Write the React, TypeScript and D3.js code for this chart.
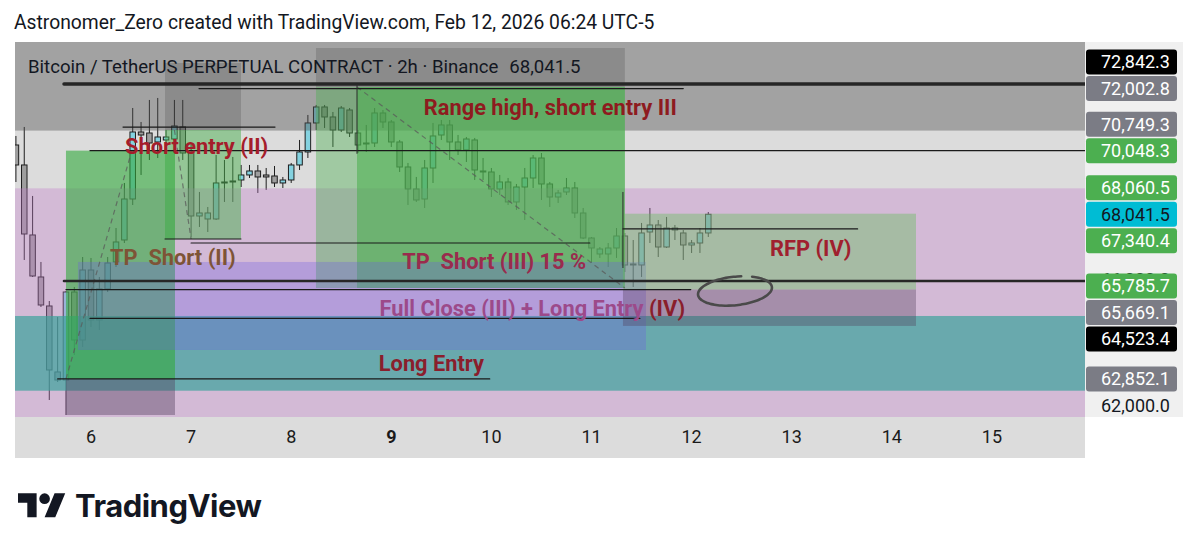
import React from 'react';
import * as d3 from 'd3';

// ---------- DATA ----------
const FIRST_BAR = -9; // bar index of first candle (0 = Feb 6 00:00), 2h bars
const BARS_PER_DAY = 12;
const candleOpen = [70226,69596,67390,66066,65152,63072,62819,65593,64080,66286,64711,65688,66539,67232,68524,70636,70604,70321,70384,70415,70794,69974,67988,67894,67894,69029,69060,69123,69281,69407,69281,69249,69029,69123,69596,70006,70920,71424,71109,70699,71329,70604,70258,70289,71235,70951,70321,69533,68839,68524,69501,70541,70857,70321,70069,70384,69407,69375,68839,69060,68430,68902,69186,69816,68997,68587,68745,68871,68083,67295,66791,66791,66980,67358,66444,66444,67484,67705,67011,67547,67453,67074,67137,67453];
const candleHigh = [70510,70794,68619,66539,65309,64805,65625,65751,66696,66665,66066,66696,67610,69029,71392,70951,71645,71708,70699,71645,71645,70226,68745,68272,69911,69753,69848,69596,69596,69596,69501,69564,69218,69659,70384,71172,71487,71487,71266,71455,71392,70699,70857,71392,71329,71014,70384,69659,69218,69753,70920,71014,71014,70541,70478,70447,69816,69501,69281,69186,68997,69501,69911,69974,69060,68808,69186,69060,68241,67327,67011,67137,67610,67453,67232,67768,68241,67862,67957,67705,67547,67232,67610,68114];
const candleLow = [69060,66602,66066,65120,62189,62756,61716,63607,63860,64490,64395,65593,66381,67137,68335,69281,69753,69816,70226,70352,69753,67327,67642,67484,67862,68430,68430,68902,69186,68713,68808,68902,68871,69029,69438,69816,70699,70762,70163,70636,70478,69974,70006,70163,70762,70163,69375,68335,68430,68241,69029,70384,69753,69911,69690,69123,69123,68587,68650,68335,68178,67862,68871,68493,68272,68398,68650,67925,67260,66507,66665,66381,66665,66223,65751,66066,67137,66696,66980,67232,66602,66822,66822,67327];
const candleClose = [69596,67421,66097,65183,63135,62819,65593,64080,66286,64711,65688,66507,67169,68524,70636,70541,70289,70478,70478,70825,69974,67988,68083,68083,69029,69060,69092,69281,69407,69218,69218,69029,69123,69596,70006,70920,71424,71109,70699,71392,70604,70226,70289,71235,70951,70321,69533,68839,68493,69501,70510,70857,70321,70069,70415,69438,69375,68839,69060,68430,68902,69186,69816,68997,68587,68713,68871,68083,67295,66980,66948,66980,67358,66444,66476,67453,67705,67011,67610,67610,67074,67137,67453,68041.5];

const dayTicks = [6, 7, 8, 9, 10, 11, 12, 13, 14, 15];
const boldDay = 9;
const priceTicks = [62000, 66000];
const labelValues = [72842.3, 72002.8, 70749.3, 70048.3, 68060.5, 68041.5, 67340.4, 65785.7, 65669.1, 64523.4, 62852.1];
const labelKinds = ['black', 'gray', 'gray', 'green', 'green', 'cyan', 'green', 'green', 'gray', 'black', 'gray'];
const currentPrice = 68041.5;

const headerText = 'Astronomer_Zero created with TradingView.com, Feb 12, 2026 06:24 UTC-5';
const legendText = 'Bitcoin / TetherUS PERPETUAL CONTRACT · 2h · Binance';

// background bands (price ranges spanning full width)
const bandTop = [73500, 68860, 64837];
const bandBottom = [70680, 61600, 62482];
const bandFill = ['rgba(80,80,80,0.42)', 'rgba(194,123,203,0.35)', 'rgba(60,163,155,0.7)'];

// zones drawn by position tools: [barStart, barEnd, priceTop, priceBottom]
const zoneStart = [8.87, 8.87, 26.97, 26.97, 31.89, -3.0, -3.0, -1.56, 63.77, 63.77];
const zoneEnd = [17.98, 17.98, 64.0, 64.0, 64.0, 10.07, 10.07, 66.53, 98.9, 98.9];
const zoneTop = [72811, 70699, 73283, 72054, 72054, 70048.3, 62852.1, 66539, 68060.5, 65669.1];
const zoneBottom = [70699, 67263, 72054, 65719, 65719, 62852.1, 61716, 63765, 65669.1, 64523.4];
const zoneFill = ['rgba(50,50,50,0.2)', 'rgba(76,175,80,0.5)', 'rgba(50,50,50,0.2)', 'rgba(76,175,80,0.42)', 'rgba(76,175,80,0.57)', 'rgba(50,170,60,0.6)', 'rgba(80,60,90,0.4)', 'rgba(110,90,230,0.3)', 'rgba(100,190,90,0.4)', 'rgba(80,60,90,0.35)'];

// dashed connectors: [bar0, price0, bar1, price1]
const connBar0 = [-3.0, 10.0, 31.89];
const connPrice0 = [62852.1, 70699, 72054];
const connBar1 = [4.9, 12.0, 64.0];
const connPrice1 = [70048.3, 67263, 65719];

// horizontal lines
const END_BAR = 130;
const hlineStart = [-3.24, 12.95, 3.84, -0.12, 8.87, 12.0, 63.77, -3.24, -3.0, -0.12, -4.0];
const hlineEnd = [END_BAR, 71.0, 22.06, END_BAR, 17.98, 59.8, 91.9, END_BAR, 71.9, 65.8, 47.8];
const hlinePrice = [72150, 72002.8, 70790, 70048.3, 67263, 67137, 67580, 65940, 65669.1, 64760, 62852.1];
const hlineWidth = [3.4, 1.2, 1.2, 1.2, 1, 1.2, 1.2, 2.6, 1.2, 1.2, 1.2];

// vertical lines: [bar, priceTop, priceBottom]
const vlineBar = [31.89, 63.77];
const vlineTop = [72150, 68745];
const vlineBottom = [69950, 66350];

// text notes: [bar, baseline price, text, colour]
const noteBar = [39.9, 4.08, 2.28, 37.3, 34.5, 81.4];
const notePrice = [71172, 69943, 66444, 66318, 63103, 66728];
const noteText = ['Range high, short entry III', 'Short entry (II)', 'TP  Short (II)', 'TP  Short (III) 15 %', 'Long Entry', 'RFP (IV)'];
const noteColor = ['#8e1b1f', '#a51d2b', '#7e5436', '#9a2b4d', '#8a1e2c', '#a0202e'];
const fullCloseBar = 34.6;
const fullClosePrice = 64837;
const fullCloseMain = 'Full Close (III) + Long Entry ';
const fullCloseTail = '(IV)';

// hand-drawn ellipse (bar, price, bar radius, price radius)
const ellipseC = [77.2, 65625];
const ellipseR = [4.45, 450];

// ---------- LAYOUT ----------
const PLOT = { left: 15, right: 1085, top: 42, bottom: 417 };
const AXIS_BOTTOM = 458;
const AXIS_RIGHT = 1183;
const FONT = "Roboto, 'Noto Sans', Arial, sans-serif";
const NOTE_SIZE = 21.8;

const kindBg: Record<string, string> = { black: '#000000', gray: '#7b7c85', green: '#4caf50', cyan: '#00bcd4' };
const kindFg: Record<string, string> = { black: '#ffffff', gray: '#ffffff', green: '#ffffff', cyan: '#131722' };

export default function App() {
  const x = d3.scaleLinear().domain([5.2408, 15.93]).range([PLOT.left, PLOT.right]);
  const y = d3.scaleLinear().domain([61653, 73472]).range([PLOT.bottom, PLOT.top]);
  const bx = (k: number) => x(6 + k / BARS_PER_DAY);
  const clampX = (v: number) => Math.max(PLOT.left, Math.min(PLOT.right, v));
  const step = bx(1) - bx(0);
  const bodyW = step * 0.66;

  const candles = candleOpen.map((o, i) => ({
    k: FIRST_BAR + i, o, h: candleHigh[i], l: candleLow[i], c: candleClose[i],
  }));

  // price label stacking
  const LABEL_H = 26.5;
  const items = labelValues.map((v, i) => ({ v, kind: labelKinds[i], y: y(v) }));
  items.sort((a, b) => b.v - a.v);
  const ai = items.findIndex((d) => d.v === currentPrice);
  for (let i = ai - 1; i >= 0; i--) items[i].y = Math.min(items[i].y, items[i + 1].y - LABEL_H);
  for (let i = ai + 1; i < items.length; i++) items[i].y = Math.max(items[i].y, items[i - 1].y + LABEL_H);

  // ellipse path
  const ecx = bx(ellipseC[0]);
  const ecy = y(ellipseC[1]);
  const erx = bx(ellipseC[0] + ellipseR[0]) - ecx;
  const ery = y(ellipseC[1] - ellipseR[1]) - ecy;
  const rot = (-6 * Math.PI) / 180;
  const ePts: [number, number][] = d3.range(-60, 287, 6).map((deg) => {
    const t = (deg * Math.PI) / 180;
    const px = erx * Math.cos(t);
    const py = ery * Math.sin(t);
    return [ecx + px * Math.cos(rot) - py * Math.sin(rot), ecy + px * Math.sin(rot) + py * Math.cos(rot)];
  });
  const ePath = d3.line().curve(d3.curveCatmullRom)(ePts) || '';

  return (
    <svg width={1199} height={552} style={{ position: 'fixed', left: 0, top: 0, background: '#ffffff' }} fontFamily={FONT}>
      <defs>
        <clipPath id="plotclip">
          <rect x={PLOT.left} y={PLOT.top} width={PLOT.right - PLOT.left} height={PLOT.bottom - PLOT.top} />
        </clipPath>
      </defs>
      <rect x={0} y={0} width={1199} height={552} fill="#ffffff" />
      {/* header */}
      <text x={14} y={29} fontSize={19.3} fill="#131722">{headerText}</text>

      {/* chart background & time axis */}
      <rect x={PLOT.left} y={PLOT.top} width={PLOT.right - PLOT.left} height={AXIS_BOTTOM - PLOT.top} fill="#dcdcdc" />
      <rect x={PLOT.right} y={PLOT.top} width={AXIS_RIGHT - PLOT.right} height={PLOT.bottom - PLOT.top} fill="#f0f0f0" />

      <g clipPath="url(#plotclip)">
        {/* candles */}
        {candles.map((d) => {
          const cx = bx(d.k);
          const up = d.c >= d.o;
          const y0 = y(Math.max(d.o, d.c));
          const y1 = y(Math.min(d.o, d.c));
          return (
            <g key={d.k}>
              <line x1={cx} x2={cx} y1={y(d.h)} y2={y(d.l)} stroke="#1e1e1e" strokeWidth={1} />
              <rect x={cx - bodyW / 2} y={y0} width={bodyW} height={Math.max(1, y1 - y0)}
                fill={up ? '#84d2e0' : '#9e9e9e'} stroke="#1e1e1e" strokeWidth={1} />
            </g>
          );
        })}
        {/* bands */}
        {bandTop.map((t, i) => (
          <rect key={'b' + i} x={PLOT.left} width={PLOT.right - PLOT.left} y={y(t)} height={y(bandBottom[i]) - y(t)} fill={bandFill[i]} />
        ))}
        {/* position zones */}
        {zoneStart.map((s, i) => (
          <rect key={'z' + i} x={clampX(bx(s))} width={clampX(bx(zoneEnd[i])) - clampX(bx(s))}
            y={y(zoneTop[i])} height={y(zoneBottom[i]) - y(zoneTop[i])} fill={zoneFill[i]} />
        ))}
        {/* dashed connectors */}
        {connBar0.map((b, i) => (
          <line key={'c' + i} x1={bx(b)} y1={y(connPrice0[i])} x2={bx(connBar1[i])} y2={y(connPrice1[i])}
            stroke="rgba(90,90,90,0.75)" strokeWidth={1.2} strokeDasharray="5,4" />
        ))}
        {/* horizontal lines */}
        {hlinePrice.map((p, i) => (
          <line key={'h' + i} x1={clampX(bx(hlineStart[i]))} x2={clampX(bx(hlineEnd[i]))} y1={y(p)} y2={y(p)}
            stroke={hlineWidth[i] > 2 ? '#262626' : '#1a1a1a'} strokeWidth={hlineWidth[i]} strokeLinecap="round" />
        ))}
        {vlineBar.map((b, i) => (
          <line key={'v' + i} x1={bx(b)} x2={bx(b)} y1={y(vlineTop[i])} y2={y(vlineBottom[i])} stroke="#2a2a2a" strokeWidth={1} />
        ))}
        {/* notes */}
        {noteBar.map((b, i) => (
          <text key={'n' + i} x={bx(b)} y={y(notePrice[i])} fontSize={NOTE_SIZE} fontWeight={700} fill={noteColor[i]}
            style={{ whiteSpace: 'pre' }}>{noteText[i]}</text>
        ))}
        <text x={bx(fullCloseBar)} y={y(fullClosePrice)} fontSize={NOTE_SIZE} fontWeight={700} style={{ whiteSpace: 'pre' }}>
          <tspan fill="#9c4a8a">{fullCloseMain}</tspan>
          <tspan fill="#8a1e2c">{fullCloseTail}</tspan>
        </text>
        {/* hand drawn ellipse */}
        <path d={ePath} fill="none" stroke="#4a4a4a" strokeWidth={2.6} strokeLinecap="round" />
        {/* legend */}
        <text x={28} y={73} fontSize={18.6} fill="#131722">
          {legendText}
          <tspan dx={11}>{currentPrice.toLocaleString('en-US', { minimumFractionDigits: 1 })}</tspan>
        </text>
      </g>

      {/* time axis labels */}
      {dayTicks.map((d) => (
        <text key={'t' + d} x={x(d)} y={443} fontSize={18} textAnchor="middle" fill="#1a1a1a" fontWeight={d === boldDay ? 700 : 400}>{d}</text>
      ))}

      {/* price axis tick labels (mostly hidden behind price labels) */}
      {priceTicks.map((p) => (
        <text key={'p' + p} x={1170} y={y(p)} dy="0.36em" fontSize={18} textAnchor="end" fill="#131722">
          {p.toLocaleString('en-US', { minimumFractionDigits: 1 })}
        </text>
      ))}
      {/* price labels */}
      {items.map((d) => (
        <g key={'l' + d.v}>
          <rect x={1086} y={d.y - 12.5} width={91} height={25} rx={3} fill={kindBg[d.kind]} />
          <text x={1170} y={d.y} dy="0.36em" fontSize={18} textAnchor="end" fill={kindFg[d.kind]}>
            {d.v.toLocaleString('en-US', { minimumFractionDigits: 1 })}
          </text>
        </g>
      ))}

      {/* TradingView logo */}
      <g transform="translate(18,488) scale(1.33)" fill="#131722">
        <path d="M14 22H7V11H0V4h14v18zM28 22h-8l7.5-18h8L28 22z" />
        <circle cx={20} cy={8} r={4} />
      </g>
      <text x={75} y={517} fontSize={31} fontWeight={700} fill="#131722" fontFamily="Inter, Roboto, sans-serif" letterSpacing={-0.5}>TradingView</text>
    </svg>
  );
}
